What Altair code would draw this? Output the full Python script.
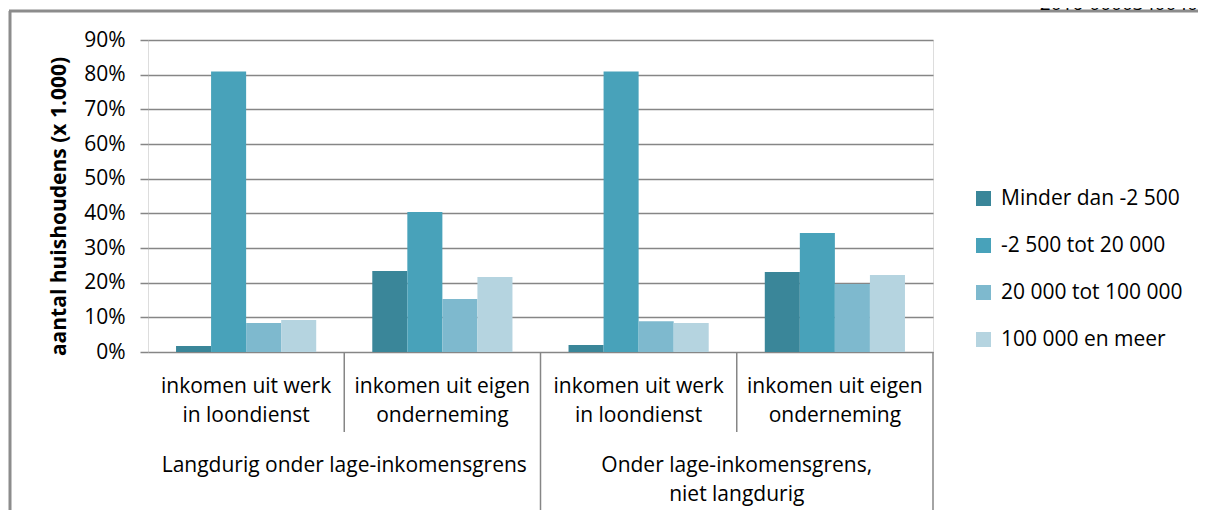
import altair as alt
import pandas as pd

groups = ["Langdurig onder lage-inkomensgrens", "Onder lage-inkomensgrens,\nniet langdurig"]
subcats = ["inkomen uit werk\nin loondienst", "inkomen uit eigen\nonderneming"]
series = ["Minder dan -2 500", "-2 500 tot 20 000", "20 000 tot 100 000", "100 000 en meer"]
colors = ["#3A8699", "#48A2BA", "#7EB9CE", "#B5D4E0"]

# values in %, order: (group1,sub1), (group1,sub2), (group2,sub1), (group2,sub2)
v_minder = [1.7, 23.4, 2.0, 23.1]
v_tot20 = [80.9, 40.4, 80.9, 34.3]
v_tot100 = [8.4, 15.3, 8.9, 19.6]
v_meer = [9.2, 21.6, 8.4, 22.2]
y_ticks = [0, 0.1, 0.2, 0.3, 0.4, 0.5, 0.6, 0.7, 0.8, 0.9]

top_left_text = ["(2013)"]
top_right_text = ["2016-0000340040"]

cats = []
for gi, g in enumerate(groups):
    for si, s in enumerate(subcats):
        cats.append(f"c{gi}{si}")

rows = []
for s, vals in zip(series, [v_minder, v_tot20, v_tot100, v_meer]):
    for c, v in zip(cats, vals):
        rows.append({"cat": c, "series": s, "value": v / 100})
df = pd.DataFrame(rows)

sub_df = pd.DataFrame({"cat": cats, "label": [subcats[i % 2] for i in range(4)]})
grp_df = pd.DataFrame({"cat": [cats[0], cats[2]], "label": groups})
short_df = pd.DataFrame({"cat": [cats[1], cats[3]]})
long0_df = pd.DataFrame({"cat": [cats[2]]})
long1_df = pd.DataFrame({"cat": [cats[3]]})
one = pd.DataFrame({"k": [0]})
tl_df = pd.DataFrame({"t": top_left_text})
tr_df = pd.DataFrame({"t": top_right_text})

FONT = "Open Sans"
GRAY = "#868686"

xscale = alt.Scale(domain=cats, paddingInner=0, paddingOuter=0)

bars = alt.Chart(df).mark_bar().encode(
    x=alt.X("cat:N", scale=xscale, axis=None, sort=cats),
    xOffset=alt.XOffset("series:N", sort=series,
                        scale=alt.Scale(domain=series, paddingInner=0, paddingOuter=0.8)),
    y=alt.Y("value:Q", scale=alt.Scale(domain=[0, 0.9], nice=False),
            axis=alt.Axis(values=y_ticks, format=".0%", grid=True, gridColor=GRAY,
                          gridWidth=1.5, domain=False, ticks=True, tickSize=8,
                          tickColor=GRAY, tickWidth=1.5, labelPadding=15,
                          labelFont=FONT, labelFontSize=21, labelColor="#000000",
                          title="aantal huishoudens (x 1.000)", titleFont=FONT,
                          titleFontSize=21, titleFontWeight="bold", titleColor="#000000",
                          titleX=-89, titleY=166, titleAngle=-90, titleAlign="center",
                          titleBaseline="middle")),
    color=alt.Color("series:N", sort=series,
                    scale=alt.Scale(domain=series, range=colors),
                    legend=alt.Legend(title=None, orient="none", legendX=825, legendY=148,
                                      symbolType="square", symbolSize=225,
                                      symbolStrokeWidth=0, symbolOpacity=1,
                                      labelFont=FONT, labelFontSize=21, labelColor="#000000",
                                      labelOffset=7, rowPadding=25, padding=0,
                                      labelLimit=300)),
)

sub_labels = alt.Chart(sub_df).mark_text(
    font=FONT, fontSize=21, lineBreak="\n", lineHeight=29, baseline="alphabetic",
    align="center", color="#000000"
).encode(x=alt.X("cat:N", scale=xscale, sort=cats), y=alt.value(353), text="label:N")

grp_labels = alt.Chart(grp_df).mark_text(
    font=FONT, fontSize=21, lineBreak="\n", lineHeight=29, baseline="alphabetic",
    align="center", color="#000000"
).encode(x=alt.X("cat:N", scale=xscale, sort=cats, bandPosition=1),
         y=alt.value(432), text="label:N")

short_rules = alt.Chart(short_df).mark_rule(color=GRAY, strokeWidth=1.5).encode(
    x=alt.X("cat:N", scale=xscale, sort=cats, bandPosition=0),
    y=alt.value(312), y2=alt.value(392))
long_rules0 = alt.Chart(long0_df).mark_rule(color=GRAY, strokeWidth=1.5).encode(
    x=alt.X("cat:N", scale=xscale, sort=cats, bandPosition=0),
    y=alt.value(312), y2=alt.value(480))
long_rules1 = alt.Chart(long1_df).mark_rule(color=GRAY, strokeWidth=1.5).encode(
    x=alt.X("cat:N", scale=xscale, sort=cats, bandPosition=1),
    y=alt.value(312), y2=alt.value(480))

frame_left = alt.Chart(one).mark_rule(color="#8c8c8c", strokeWidth=3).encode(
    x=alt.value(-138), y=alt.value(-29), y2=alt.value(480))
frame_top = alt.Chart(one).mark_rule(color="#8c8c8c", strokeWidth=3).encode(
    x=alt.value(-139), x2=alt.value(1100), y=alt.value(-29))

tl_text = alt.Chart(tl_df).mark_text(
    font=FONT, fontSize=21, align="left", baseline="alphabetic", color="#000000"
).encode(x=alt.value(-148), y=alt.value(-35), text="t:N")
tr_text = alt.Chart(tr_df).mark_text(
    font=FONT, fontSize=19, align="right", baseline="alphabetic", color="#000000"
).encode(x=alt.value(1050), y=alt.value(-30), text="t:N")

chart = alt.layer(
    bars, sub_labels, grp_labels, short_rules, long_rules0, long_rules1,
    frame_left, frame_top, tl_text, tr_text
).properties(
    width=785, height=312,
    autosize=alt.AutoSizeParams(type="none"),
    padding={"left": 140, "top": 32, "right": 265, "bottom": 158},
).configure_view(stroke=None).configure(background="#ffffff")

chart.save("out.html", embed_options={"renderer": "svg", "actions": False})
